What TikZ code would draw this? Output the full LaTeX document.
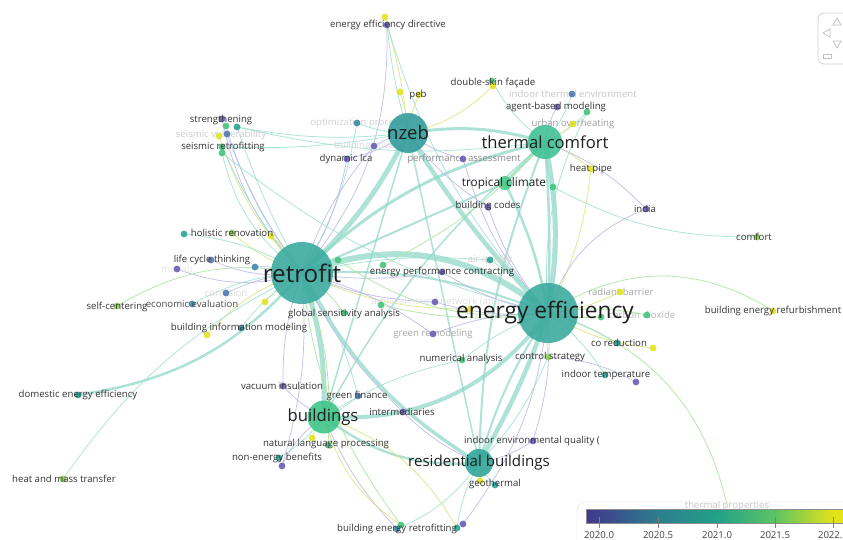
\documentclass[tikz,border=0pt]{standalone}
\usepackage{fontspec}
\setmainfont{Open Sans}
\usetikzlibrary{calc}
\pgfdeclarelayer{backdrop}
\pgfdeclarelayer{edges}
\pgfdeclarelayer{faintlayer}
\pgfdeclarelayer{labels}
\pgfsetlayers{backdrop,edges,faintlayer,main,labels}

% viridis-like palette
\definecolor{vpurple}{HTML}{6A5FB7}
\definecolor{vblue}{HTML}{4F78B2}
\definecolor{vsteel}{HTML}{3A8AA3}
\definecolor{vteal}{HTML}{2BA394}
\definecolor{vgreen}{HTML}{45C57E}
\definecolor{vlime}{HTML}{8CCF4D}
\definecolor{vyellow}{HTML}{E3E31F}
\definecolor{hubA}{HTML}{38A99E}
\definecolor{hubN}{HTML}{2F9B9A}
\definecolor{hubT}{HTML}{3DBF93}
\definecolor{hubB}{HTML}{3BC386}
\definecolor{hubR}{HTML}{2DA597}
\definecolor{hubC}{HTML}{48C78A}
\definecolor{eteal}{HTML}{9CE0D0}
\definecolor{ehub}{HTML}{8CD7C5}
\definecolor{epurple}{HTML}{B9B7E8}
\definecolor{eyellow}{HTML}{DCE784}
\definecolor{egreen}{HTML}{AEE6A2}
\definecolor{ink}{HTML}{333333}
\definecolor{bigink}{HTML}{1E1E1E}

\newcommand{\fsz}[1]{\fontsize{#1}{#1}\selectfont}

\tikzset{
  kw/.style={circle, inner sep=0pt, minimum size=6.8pt, fill=#1, fill opacity=0.9, draw=none},
  hub/.style 2 args={circle, inner sep=0pt, minimum size=#1, fill=#2, fill opacity=0.88, draw=none},
  lbl/.style={inner sep=0pt, text=ink, font=\fsz{9.6}},
  faint/.style={inner sep=0pt, text=#1, font=\fsz{9.6}},
  biglbl/.style={inner sep=0pt, text=bigink, font=\fsz{#1}},
  edge/.style={draw=eteal, line width=0.75pt, opacity=0.85},
  pedge/.style={draw=epurple, line width=0.75pt, opacity=0.85},
  yedge/.style={draw=eyellow, line width=0.8pt, opacity=0.9},
  gedge/.style={draw=egreen, line width=0.8pt, opacity=0.9},
  hubedge/.style={draw=ehub, opacity=0.7},
}
\newcommand{\lnk}[4][edge]{\draw[#1] (#2.center) to[bend left=#4] (#3.center);}

\begin{document}
\begin{tikzpicture}[x=1pt, y=-1pt]
\useasboundingbox (0,0) rectangle (843,539);
\clip (0,0) rectangle (843,539);
\begin{pgfonlayer}{backdrop}
\fill[white] (0,0) rectangle (843,539);
\end{pgfonlayer}

% ---------- hubs ----------
\node[hub={62pt}{hubA}] (retro) at (302,273) {};
\node[hub={60pt}{hubA}] (ee) at (548,313) {};
\node[hub={40pt}{hubN}] (nzeb) at (408,133) {};
\node[hub={34pt}{hubT}] (tc) at (545,142) {};
\node[hub={33pt}{hubB}] (bld) at (324,417) {};
\node[hub={28pt}{hubR}] (rbld) at (479,463) {};
\node[hub={14pt}{hubC}] (trop) at (505,183) {};

% ---------- keywords ----------
\node[kw=vyellow] (eedY) at (385,17) {};
\node[kw=vpurple] (eed) at (387,25) {};
\node[kw=vyellow] (pebX) at (400,92) {};
\node[kw=vyellow] (peb) at (419,95) {};
\node[kw=vgreen] (dsfG) at (492,81) {};
\node[kw=vyellow] (dsf) at (493,86) {};
\node[kw=vblue] (ite) at (572,94) {};
\node[kw=vpurple] (abm) at (557,107) {};
\node[kw=vgreen] (abmG) at (587,112) {};
\node[kw=vyellow] (uo) at (573,124) {};
\node[kw=vyellow] (hp) at (591,169) {};
\node[kw=vgreen] (tropG) at (553,187) {};
\node[kw=vpurple] (bc) at (488,207) {};
\node[kw=vpurple] (pa) at (463,159) {};
\node[kw=vsteel] (op) at (357,123) {};
\node[kw=vpurple] (benv) at (374,146) {};
\node[kw=vpurple] (dlca) at (347,159) {};
\node[kw=vpurple] (str) at (222,119) {};
\node[kw=vgreen] (strG) at (226,126) {};
\node[kw=vteal] (strT) at (237,127) {};
\node[kw=vyellow] (sv) at (219,136) {};
\node[kw=vblue] (svB) at (227,134) {};
\node[kw=vgreen] (sr) at (222,147) {};
\node[kw=vgreen] (srG) at (222,153) {};
\node[kw=vlime] (hr) at (232,233) {};
\node[kw=vteal] (hrT) at (184,234) {};
\node[kw=vyellow] (hrY) at (271,236) {};
\node[kw=vblue] (lct) at (211,260) {};
\node[kw=vsteel] (lctS) at (255,267) {};
\node[kw=vpurple] (mat) at (177,269) {};
\node[kw=vblue] (corr) at (226,293) {};
\node[kw=vsteel] (eco) at (192,304) {};
\node[kw=vyellow] (ecoY) at (265,302) {};
\node[kw=vlime] (sc) at (117,306) {};
\node[kw=vsteel] (bim) at (241,328) {};
\node[kw=vyellow] (bimY) at (207,335) {};
\node[kw=vgreen] (gsa) at (344,313) {};
\node[kw=vgreen] (gsaG) at (381,305) {};
\node[kw=vpurple] (ann) at (435,302) {};
\node[kw=vyellow] (annY) at (470,309) {};
\node[kw=vpurple] (epc) at (442,272) {};
\node[kw=vgreen] (epcG) at (338,260) {};
\node[kw=vgreen] (epcH) at (383,265) {};
\node[kw=vteal] (aq) at (490,260) {};
\node[kw=vpurple] (grm) at (433,334) {};
\node[kw=vgreen] (na) at (462,360) {};
\node[kw=vlime] (cs) at (548,357) {};
\node[kw=vyellow] (rbar) at (620,292) {};
\node[kw=vgreen] (cdx) at (647,315) {};
\node[kw=vgreen] (cdxG) at (601,317) {};
\node[kw=vteal] (cor) at (617,343) {};
\node[kw=vyellow] (corY) at (653,348) {};
\node[kw=vpurple] (ind) at (646,209) {};
\node[kw=vlime] (cmf) at (757,237) {};
\node[kw=vyellow] (berf) at (773,311) {};
\node[kw=vteal] (itmp) at (605,375) {};
\node[kw=vpurple] (itmpP) at (636,382) {};
\node[kw=vpurple] (ieq) at (533,441) {};
\node[kw=vteal] (geo) at (495,485) {};
\node[kw=vyellow] (geoY) at (480,481) {};
\node[kw=vsteel] (bert) at (397,529) {};
\node[kw=vgreen] (bertG) at (401,525) {};
\node[kw=vteal] (bertT) at (457,528) {};
\node[kw=vpurple] (bertP) at (463,524) {};
\node[kw=vpurple] (intm) at (403,412) {};
\node[kw=vblue] (gf) at (358,396) {};
\node[kw=vpurple] (vi) at (283,386) {};
\node[kw=vyellow] (nlpY) at (312,438) {};
\node[kw=vgreen] (nlp) at (328,445) {};
\node[kw=vteal] (neb) at (279,458) {};
\node[kw=vpurple] (nebP) at (282,466) {};
\node[kw=vteal] (dee) at (78,395) {};
\node[kw=vlime] (hmt) at (63,479) {};
\node[kw=egreen] (tp) at (727,505) {};

% ---------- connectors ----------
\begin{pgfonlayer}{edges}
% strong links between the main topics
\draw[hubedge, line width=6pt] (retro.center) to[bend left=30] (ee.center);
\draw[hubedge, line width=2pt] (retro.center) to[bend left=12] (ee.center);
\draw[hubedge, line width=5pt] (retro.center) to[bend right=10] (nzeb.center);
\draw[hubedge, line width=4.5pt] (nzeb.center) to[bend right=6] (ee.center);
\draw[hubedge, line width=5pt] (tc.center) to[bend left=10] (ee.center);
\draw[hubedge, line width=2.5pt] (tc.center) to[bend left=3] (ee.center);
\draw[hubedge, line width=5pt] (retro.center) to[bend left=10] (bld.center);
\draw[hubedge, line width=4pt] (bld.center) to[bend right=28] (ee.center);
\draw[hubedge, line width=3.5pt] (retro.center) to[bend right=15] (rbld.center);
\draw[hubedge, line width=4.5pt] (ee.center) to[bend left=5] (rbld.center);
\draw[hubedge, line width=2pt] (ee.center) to[bend right=8] (rbld.center);
\draw[hubedge, line width=2pt] (tc.center) to[bend right=10] (rbld.center);
\draw[hubedge, line width=3pt] (nzeb.center) to[bend left=12] (tc.center);
\draw[hubedge, line width=3pt] (tc.center) to (trop.center);
\draw[hubedge, line width=2.5pt] (trop.center) to[bend left=8] (ee.center);
\draw[hubedge, line width=3pt] (retro.center) to[bend left=15] (tc.center);
\draw[hubedge, line width=2pt] (retro.center) to (trop.center);
\draw[hubedge, line width=2.5pt] (bld.center) to[bend right=20] (rbld.center);
\draw[hubedge, line width=1.5pt] (bld.center) to (nzeb.center);
\draw[hubedge, line width=1.5pt] (bld.center) to[bend left=10] (tc.center);
\draw[hubedge, line width=1.5pt] (nzeb.center) to (rbld.center);
\draw[hubedge, line width=2.5pt] (dee.center) to[bend right=20] (retro.center);

% links of single keywords
\lnk[pedge]{eed}{retro}{20}
\lnk{eed}{nzeb}{-5}
\lnk[yedge]{eedY}{nzeb}{5}
\lnk{eed}{ee}{-12}
\lnk[yedge]{peb}{nzeb}{-8}
\lnk[yedge]{pebX}{nzeb}{8}
\lnk[yedge]{dsf}{nzeb}{15}
\lnk{dsfG}{tc}{-12}
\lnk{ite}{tc}{10}
\lnk[pedge]{abm}{tc}{-10}
\lnk{abmG}{tc}{10}
\lnk{abmG}{ee}{-15}
\lnk[yedge]{uo}{tc}{10}
\lnk[yedge]{hp}{tc}{-10}
\lnk[yedge]{hp}{ee}{10}
\lnk{tropG}{ee}{10}
\lnk{tropG}{cmf}{-14}
\lnk[pedge]{bc}{ee}{-10}
\lnk[pedge]{bc}{nzeb}{10}
\lnk[pedge]{pa}{nzeb}{10}
\lnk[pedge]{pa}{ee}{-12}
\lnk{op}{nzeb}{-10}
\lnk{op}{retro}{10}
\lnk[pedge]{benv}{nzeb}{10}
\lnk[pedge]{benv}{retro}{-10}
\lnk[pedge]{dlca}{retro}{10}
\lnk[pedge]{dlca}{nzeb}{-10}
\lnk[pedge]{str}{retro}{-15}
\lnk{strG}{retro}{-10}
\lnk{strT}{nzeb}{-8}
\lnk{strT}{tc}{-10}
\lnk{strT}{retro}{-5}
\lnk[yedge]{sv}{retro}{-12}
\lnk[pedge]{svB}{retro}{-8}
\lnk{sr}{retro}{-8}
\lnk{srG}{retro}{-20}
\lnk{srG}{ee}{-12}
\lnk{sr}{nzeb}{-6}
\lnk[yedge]{hr}{retro}{-10}
\lnk{hrT}{retro}{12}
\lnk[yedge]{hrY}{retro}{10}
\lnk[pedge]{lct}{retro}{-15}
\lnk[pedge]{lctS}{retro}{10}
\lnk[pedge]{mat}{retro}{-18}
\lnk[pedge]{corr}{retro}{10}
\lnk{eco}{retro}{12}
\lnk[yedge]{ecoY}{retro}{10}
\lnk[gedge]{sc}{retro}{20}
\lnk{bim}{retro}{10}
\lnk[yedge]{bimY}{retro}{15}
\lnk[gedge]{gsa}{retro}{-10}
\lnk[gedge]{gsaG}{ee}{-10}
\lnk[pedge]{ann}{ee}{-10}
\lnk[pedge]{ann}{retro}{10}
\lnk[yedge]{annY}{retro}{12}
\lnk[pedge]{epc}{ee}{-10}
\lnk[pedge]{epc}{retro}{8}
\lnk[gedge]{epcG}{ee}{-20}
\lnk[gedge]{epcH}{tc}{-10}
\lnk{aq}{ee}{10}
\lnk{aq}{retro}{-8}
\lnk[pedge]{grm}{ee}{10}
\lnk[pedge]{grm}{retro}{-10}
\lnk{na}{ee}{10}
\lnk{na}{bld}{-10}
\lnk[yedge]{cs}{ee}{5}
\lnk{cs}{rbld}{10}
\lnk[yedge]{rbar}{ee}{10}
\lnk[gedge]{cdx}{ee}{-10}
\lnk[gedge]{cdxG}{ee}{8}
\lnk{cor}{ee}{-8}
\lnk[yedge]{corY}{ee}{12}
\lnk[pedge]{ind}{ee}{-25}
\lnk[pedge]{ind}{tc}{-12}
\lnk[gedge]{ee}{berf}{33}
\lnk{itmp}{ee}{-10}
\lnk[pedge]{itmpP}{cs}{-12}
\lnk[pedge]{ieq}{rbld}{10}
\lnk[pedge]{ieq}{ee}{-10}
\lnk{geo}{rbld}{10}
\lnk[yedge]{geoY}{rbld}{-10}
\lnk{bert}{rbld}{-15}
\lnk[pedge]{bert}{bld}{10}
\lnk[gedge]{bertG}{retro}{15}
\lnk[yedge]{bertG}{bld}{20}
\lnk{bertT}{rbld}{10}
\lnk[pedge]{bertP}{ee}{-15}
\lnk[yedge]{bertT}{bld}{-20}
\lnk[pedge]{intm}{retro}{10}
\lnk[pedge]{intm}{rbld}{-10}
\lnk{gf}{bld}{10}
\lnk{gf}{retro}{-10}
\lnk[pedge]{vi}{bld}{-10}
\lnk[pedge]{vi}{retro}{10}
\lnk[yedge]{nlpY}{bld}{10}
\lnk[gedge]{nlp}{retro}{-12}
\lnk{neb}{bld}{-10}
\lnk[pedge]{nebP}{retro}{-10}
\lnk[pedge]{nebP}{bld}{15}
\lnk{hmt}{retro}{14}
\lnk[gedge]{ee}{tp}{30}
\end{pgfonlayer}

% ---------- faded labels ----------
\begin{pgfonlayer}{faintlayer}
\node[faint={black!22}] (ite-l) at (573,94) {indoor thermal environment};
\node[faint={black!38}] (uo-l) at (573,124) {urban overheating};
\node[faint={black!45}] (pa-l) at (464,159) {performance assessment};
\node[faint={black!18}] (op-l) at (357,123) {optimization process};
\node[faint={black!14}] (benv-l) at (374,146) {building envelope};
\node[faint={black!20}] (sv-l) at (221,135) {seismic vulnerability};
\node[faint={black!10}] (mat-l) at (177,269) {matlab};
\node[faint={black!14}] (corr-l) at (226,293) {corrosion};
\node[faint={black!18}] (aq-l) at (490,260) {air quality};
\node[faint={black!12}] (ann-l) at (437,302) {artificial neural network (ann)};
\node[faint={black!35}] (grm-l) at (433,334) {green remodeling};
\node[faint={black!35}] (rbar-l) at (621,292) {radiant barrier};
\node[faint={black!28}] (cdx-l) at (642,315) {carbon dioxide};
\end{pgfonlayer}

% ---------- labels ----------
\begin{pgfonlayer}{labels}
\node[biglbl=24.2] (retro-l) at (302,273) {retrofit};
\node[biglbl=22.7] (ee-l) at (545,313) {energy efficiency};
\node[biglbl=18.5] (nzeb-l) at (408,133) {nzeb};
\node[biglbl=16.6] (tc-l) at (545,142) {thermal comfort};
\node[biglbl=16.7] (bld-l) at (323,417) {buildings};
\node[biglbl=15.1] (rbld-l) at (479,463) {residential buildings};
\node[biglbl=11.8] (trop-l) at (504,183) {tropical climate};

\node[lbl] (eed-l) at (388,25) {energy efficiency directive};
\node[lbl] (peb-l) at (418,95) {peb};
\node[lbl] (dsf-l) at (493,83) {double-skin façade};
\node[lbl] (abm-l) at (556,107) {agent-based modeling};
\node[lbl] (hp-l) at (591,169) {heat pipe};
\node[lbl] (bc-l) at (488,206) {building codes};
\node[lbl] (dlca-l) at (346,159) {dynamic lca};
\node[lbl] (str-l) at (221,120) {strengthening};
\node[lbl] (sr-l) at (223,147) {seismic retrofitting};
\node[lbl] (hr-l) at (232,233) {holistic renovation};
\node[lbl] (lct-l) at (212,260) {life cycle thinking};
\node[lbl, text=black!70] (eco-l) at (192,304) {economic evaluation};
\node[lbl] (sc-l) at (117,307) {self-centering};
\node[lbl] (bim-l) at (239,328) {building information modeling};
\node[lbl] (gsa-l) at (344,314) {global sensitivity analysis};
\node[lbl] (epc-l) at (442,272) {energy performance contracting};
\node[lbl] (na-l) at (461,359) {numerical analysis};
\node[lbl] (cs-l) at (550,357) {control strategy};
\node[lbl] (cor-l) at (619,343) {co reduction};
\node[lbl] (ind-l) at (645,209) {india};
\node[lbl] (cmf-l) at (754,237) {comfort};
\node[lbl] (berf-l) at (773,311) {building energy refurbishment};
\node[lbl] (itmp-l) at (606,375) {indoor temperature};
\node[lbl] (ieq-l) at (532,441) {indoor environmental quality (};
\node[lbl] (geo-l) at (495,484) {geothermal};
\node[lbl] (bert-l) at (397,529) {building energy retrofitting};
\node[lbl] (intm-l) at (402,412) {intermediaries};
\node[lbl] (gf-l) at (357,396) {green finance};
\node[lbl] (vi-l) at (282,386) {vacuum insulation};
\node[lbl] (nlp-l) at (326,444) {natural language processing};
\node[lbl] (neb-l) at (277,458) {non-energy benefits};
\node[lbl] (dee-l) at (78,395) {domestic energy efficiency};
\node[lbl] (hmt-l) at (64,479) {heat and mass transfer};

% ---------- colour legend ----------
\draw[black!14, fill=white, fill opacity=0.85, rounded corners=8pt] (577,502) rectangle (880,570);
\node[faint={black!22}] (tp-l) at (727,506) {thermal properties};
\shade[left color={rgb,255:red,64;green,58;blue,139}, right color={rgb,255:red,62;green,66;blue,140}] (586,509) rectangle (599,523);
\shade[left color={rgb,255:red,62;green,66;blue,140}, right color={rgb,255:red,44;green,126;blue,142}] (598.8,509) rectangle (658,523);
\shade[left color={rgb,255:red,44;green,126;blue,142}, right color={rgb,255:red,34;green,161;blue,137}] (657.8,509) rectangle (717,523);
\shade[left color={rgb,255:red,34;green,161;blue,137}, right color={rgb,255:red,93;green,195;blue,99}] (716.8,509) rectangle (775,523);
\shade[left color={rgb,255:red,93;green,195;blue,99}, right color={rgb,255:red,226;green,227;blue,26}] (774.8,509) rectangle (833,523);
\shade[left color={rgb,255:red,226;green,227;blue,26}, right color={rgb,255:red,240;green,229;blue,28}] (832.8,509) rectangle (880,523);
\draw[black!45, line width=0.8pt] (586,509) rectangle (880,523);
\foreach \xx/\yr in {599/2020.0, 658/2020.5, 717/2021.0, 775/2021.5, 833/2022.0} {
  \draw[black!50, line width=0.8pt] (\xx,517) -- (\xx,528);
  \node[lbl, text=black!75] at (\xx,535.5) {\yr};
}

% ---------- navigation widget ----------
\draw[black!18, line width=0.8pt, fill=white, rounded corners=6pt] (818,13) rectangle (870,64);
\draw[black!25, line width=0.7pt] (833,25) -- (841,25) -- (837,18) -- cycle;
\draw[black!25, line width=0.7pt] (830,29) -- (830,37) -- (823,33) -- cycle;
\draw[black!25, line width=0.7pt] (833,41) -- (841,41) -- (837,48) -- cycle;
\draw[black!25, line width=0.7pt] (823,54) rectangle (831,58);
\end{pgfonlayer}
\end{tikzpicture}
\end{document}
